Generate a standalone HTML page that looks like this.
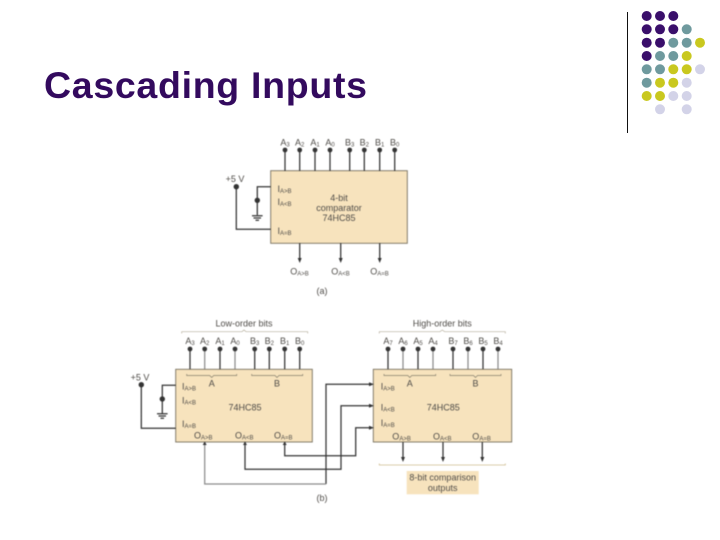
<!DOCTYPE html>
<html><head><meta charset="utf-8"><style>
html,body{margin:0;padding:0;background:#fff;width:720px;height:540px;overflow:hidden}
svg{display:block;position:absolute;left:0;top:0}
.d text{font-family:"Liberation Sans",sans-serif;fill:#4f4c48;font-size:9px}
.d tspan{font-size:6px}
</style></head><body>
<svg width="720" height="540" viewBox="0 0 720 540">
<text x="44" y="98" font-family="'Liberation Sans',sans-serif" font-weight="bold" font-size="37.5" fill="#330a5e" textLength="323">Cascading Inputs</text>
<line x1="627.5" y1="12" x2="627.5" y2="133" stroke="#111" stroke-width="1"/>
<g fill="#3a0f6b"><circle cx="646.7" cy="16" r="5"/><circle cx="660" cy="16" r="5"/><circle cx="673.3" cy="16" r="5"/><circle cx="646.7" cy="29.3" r="5"/><circle cx="660" cy="29.3" r="5"/><circle cx="673.3" cy="29.3" r="5"/><circle cx="646.7" cy="42.7" r="5"/><circle cx="660" cy="42.7" r="5"/><circle cx="646.7" cy="56" r="5"/></g>
<g fill="#6f9a9e"><circle cx="686.7" cy="29.3" r="5"/><circle cx="673.3" cy="42.7" r="5"/><circle cx="686.7" cy="42.7" r="5"/><circle cx="660" cy="56" r="5"/><circle cx="673.3" cy="56" r="5"/><circle cx="646.7" cy="69.3" r="5"/><circle cx="660" cy="69.3" r="5"/><circle cx="646.7" cy="82.7" r="5"/></g>
<g fill="#c9c81f"><circle cx="700" cy="42.7" r="5"/><circle cx="686.7" cy="56" r="5"/><circle cx="673.3" cy="69.3" r="5"/><circle cx="686.7" cy="69.3" r="5"/><circle cx="660" cy="82.7" r="5"/><circle cx="673.3" cy="82.7" r="5"/><circle cx="646.7" cy="96" r="5"/><circle cx="660" cy="96" r="5"/></g>
<g fill="#d3d3e8"><circle cx="700" cy="69.3" r="5"/><circle cx="686.7" cy="82.7" r="5"/><circle cx="673.3" cy="96" r="5"/><circle cx="686.7" cy="96" r="5"/><circle cx="660" cy="109.3" r="5"/><circle cx="686.7" cy="109.3" r="5"/></g>

<g class="d" style="filter:blur(0.4px)">
<g fill="#f7e3bd" stroke="#77705f" stroke-width="0.9">
<rect x="270.7" y="170.7" width="136.6" height="72.6"/>
<rect x="175.7" y="369.3" width="136.6" height="72.7"/>
<rect x="373.3" y="369.3" width="138.4" height="72.7"/>
</g>
<rect x="406.7" y="471" width="72" height="23.3" fill="#f7e3bd"/>

<g stroke="#333" stroke-width="1.25" fill="none">
<path d="M285 150V171M299.7 150V171M315 150V171M330 150V171M349.7 150V171M364.3 150V171M379.7 150V171M394.7 150V171"/>
<path d="M190 349V369M220 349V369M254.7 349V369M269.3 349V369M284.7 349V369M299.7 349V369"/>
<path d="M388 349V369M418 349V369M453 349V369M483 349V369"/>
<path d="M236.3 186.7V229.3H270.7M270.7 186.7H257.3V215M252 215.7H262.6M253.5 218H261M255.5 220.3H259"/>
<path d="M141.3 384.7V428.3H175.7M175.7 385.3H162.3V413.3M157 413.7H167.6M158.5 416H166M160.5 418.3H164"/>
<path d="M299.7 243V259M340.7 243V259M379.7 243V259"/>
<path d="M245 442V469.3H341V405.7H370M284.7 442V455.7H355.7V427.7H370"/>
<path d="M326 484V384.3H370"/>
<path d="M403 442V458M443 442V458M482.3 442V458"/>
</g>
<g stroke="#8c8c8c" stroke-width="1.25" fill="none">
<path d="M204.7 349V369M235 349V369M403 349V369M433 349V369M468 349V369M498 349V369"/>
<path d="M204.7 442V484H326"/>
</g>
<g fill="#333">
<circle cx="285" cy="150" r="2.4"/><circle cx="299.7" cy="150" r="2.4"/><circle cx="315" cy="150" r="2.4"/><circle cx="330" cy="150" r="2.4"/><circle cx="349.7" cy="150" r="2.4"/><circle cx="364.3" cy="150" r="2.4"/><circle cx="379.7" cy="150" r="2.4"/><circle cx="394.7" cy="150" r="2.4"/>
<circle cx="190" cy="349" r="2.4"/><circle cx="204.7" cy="349" r="2.4"/><circle cx="220" cy="349" r="2.4"/><circle cx="235" cy="349" r="2.4"/><circle cx="254.7" cy="349" r="2.4"/><circle cx="269.3" cy="349" r="2.4"/><circle cx="284.7" cy="349" r="2.4"/><circle cx="299.7" cy="349" r="2.4"/>
<circle cx="388" cy="349" r="2.4"/><circle cx="403" cy="349" r="2.4"/><circle cx="418" cy="349" r="2.4"/><circle cx="433" cy="349" r="2.4"/><circle cx="453" cy="349" r="2.4"/><circle cx="468" cy="349" r="2.4"/><circle cx="483" cy="349" r="2.4"/><circle cx="498" cy="349" r="2.4"/>
<circle cx="236.3" cy="186.7" r="2.7"/><circle cx="257.3" cy="200.3" r="2.7"/><circle cx="141.3" cy="384.7" r="2.7"/><circle cx="162.3" cy="399" r="2.7"/>
<path d="M297.7 258h4l-2 5zM338.7 258h4l-2 5zM377.7 258h4l-2 5zM401 457h4l-2 5zM441 457h4l-2 5zM480.3 457h4l-2 5z"/>
<path d="M202.7 445h4l-2 -3.5zM243 445h4l-2 -3.5zM282.7 445h4l-2 -3.5z"/>
<path d="M369 382.3v4l5 -2zM369 403.7v4l5 -2zM369 425.7v4l5 -2z"/>
</g>

<g stroke="#b5ae9c" stroke-width="0.7" fill="none">
<path d="M181.7 333.5V331.7H242L244 330L246 331.7H307.7V333.5"/>
<path d="M379.3 333.5V331.7H440L442.3 330L444.6 331.7H505.3V333.5"/>
</g>
<g stroke="#857f6c" stroke-width="0.7" fill="none">
<path d="M186.7 374V375.5H209.7L211.7 377.5L213.7 375.5H236.7V374"/>
<path d="M251.7 374V375.5H275L277 377.5L279 375.5H302.7V374"/>
<path d="M384 374V375.5H407.8L409.8 377.5L411.8 375.5H435.7V374"/>
<path d="M450 374V375.5H473.5L475.5 377.5L477.5 375.5H501V374"/>
</g>
<path d="M379.3 463.5V465H505.3V463.5" stroke="#cdbb8e" stroke-width="0.8" fill="none"/>

<g text-anchor="middle">
<text x="285" y="145.5">A<tspan dy="1">3</tspan></text>
<text x="299.7" y="145.5">A<tspan dy="1">2</tspan></text>
<text x="315" y="145.5">A<tspan dy="1">1</tspan></text>
<text x="330" y="145.5">A<tspan dy="1">0</tspan></text>
<text x="349.7" y="145.5">B<tspan dy="1">3</tspan></text>
<text x="364.3" y="145.5">B<tspan dy="1">2</tspan></text>
<text x="379.7" y="145.5">B<tspan dy="1">1</tspan></text>
<text x="394.7" y="145.5">B<tspan dy="1">0</tspan></text>
<text x="339" y="201">4-bit</text>
<text x="339" y="211">comparator</text>
<text x="339" y="221">74HC85</text>
<text x="235" y="182">+5 V</text>
<text x="299.5" y="274.5">O<tspan dy="1">A&gt;B</tspan></text>
<text x="340.5" y="274.5">O<tspan dy="1">A&lt;B</tspan></text>
<text x="379.5" y="274.5">O<tspan dy="1">A=B</tspan></text>
<text x="322" y="294">(a)</text>

<text x="244" y="326.5">Low-order bits</text>
<text x="442.3" y="326.5">High-order bits</text>
<text x="190" y="344">A<tspan dy="1">3</tspan></text>
<text x="204.7" y="344">A<tspan dy="1">2</tspan></text>
<text x="220" y="344">A<tspan dy="1">1</tspan></text>
<text x="235" y="344">A<tspan dy="1">0</tspan></text>
<text x="254.7" y="344">B<tspan dy="1">3</tspan></text>
<text x="269.3" y="344">B<tspan dy="1">2</tspan></text>
<text x="284.7" y="344">B<tspan dy="1">1</tspan></text>
<text x="299.7" y="344">B<tspan dy="1">0</tspan></text>
<text x="388" y="344">A<tspan dy="1">7</tspan></text>
<text x="403" y="344">A<tspan dy="1">6</tspan></text>
<text x="418" y="344">A<tspan dy="1">5</tspan></text>
<text x="433" y="344">A<tspan dy="1">4</tspan></text>
<text x="453" y="344">B<tspan dy="1">7</tspan></text>
<text x="468" y="344">B<tspan dy="1">6</tspan></text>
<text x="483" y="344">B<tspan dy="1">5</tspan></text>
<text x="498" y="344">B<tspan dy="1">4</tspan></text>
<text x="211.7" y="386.5">A</text>
<text x="277" y="386.5">B</text>
<text x="409.8" y="386.5">A</text>
<text x="475.5" y="386.5">B</text>
<text x="245" y="410.5">74HC85</text>
<text x="443.3" y="410.5">74HC85</text>
<text x="140" y="380.5">+5 V</text>
<text x="442.7" y="480.5">8-bit comparison</text>
<text x="442.7" y="491">outputs</text>
<text x="322" y="501">(b)</text>
</g>
<text x="277.5" y="192">I<tspan dy="1">A&gt;B</tspan></text>
<text x="277.5" y="205">I<tspan dy="1">A&lt;B</tspan></text>
<text x="277.5" y="234">I<tspan dy="1">A=B</tspan></text>
<text x="182" y="389.5">I<tspan dy="1">A&gt;B</tspan></text>
<text x="182" y="403.5">I<tspan dy="1">A&lt;B</tspan></text>
<text x="182" y="427">I<tspan dy="1">A=B</tspan></text>
<text x="194" y="438.5">O<tspan dy="1">A&gt;B</tspan></text>
<text x="235" y="438.5">O<tspan dy="1">A&lt;B</tspan></text>
<text x="274" y="438.5">O<tspan dy="1">A=B</tspan></text>
<text x="380.7" y="389.5">I<tspan dy="1">A&gt;B</tspan></text>
<text x="380.7" y="410.5">I<tspan dy="1">A&lt;B</tspan></text>
<text x="380.7" y="426">I<tspan dy="1">A=B</tspan></text>
<text x="392.3" y="439.5">O<tspan dy="1">A&gt;B</tspan></text>
<text x="433" y="439.5">O<tspan dy="1">A&lt;B</tspan></text>
<text x="472.3" y="439.5">O<tspan dy="1">A=B</tspan></text>
</g>
</svg>
</body></html>
